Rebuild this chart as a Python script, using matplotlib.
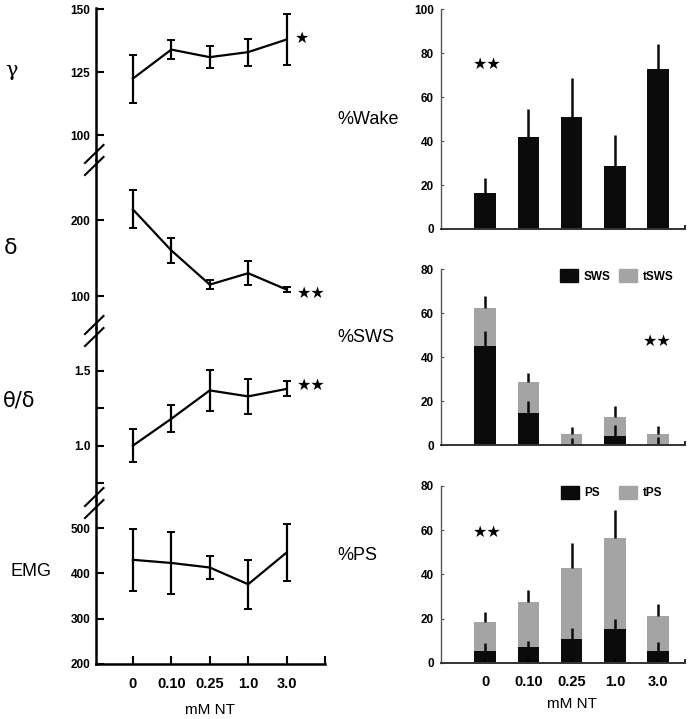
import numpy as np
import matplotlib.pyplot as plt
from matplotlib.patches import Patch
from matplotlib.lines import Line2D

# doses (categorical x positions)
doses = ['0', '0.10', '0.25', '1.0', '3.0']

# left column: mean +/- sem
gamma = [122.5, 134, 131, 133, 138]
gamma_err = [9.5, 3.8, 4.5, 5.4, 10.3]
delta = [214, 160, 115, 130, 108.5]
delta_err = [25, 16, 6, 16, 3]
theta_delta = [1.0, 1.18, 1.37, 1.33, 1.38]
theta_delta_err = [0.11, 0.09, 0.14, 0.115, 0.05]
emg = [430, 423, 413, 376, 446]
emg_err = [68, 68, 26, 54, 63]

# right column: percentages (upper error only)
wake = [16.5, 42, 51, 28.8, 73]
wake_err = [6.5, 12.5, 17.6, 14.2, 11.3]
sws = [45, 14.4, 0.5, 4.2, 0.5]
sws_err = [7, 5.8, 2.8, 4.8, 3.3]
tsws = [62.5, 28.5, 5, 12.6, 5]
tsws_err = [5.3, 4.5, 3.3, 5.3, 3.6]
ps = [5.3, 7, 10.6, 15.1, 5.4]
ps_err = [3.7, 3, 5.2, 4.5, 4.1]
tps = [18.3, 27.3, 42.7, 56.3, 21.1]
tps_err = [4.7, 5.7, 11.7, 12.8, 5.3]

W, H = 690, 719
FONT = 'Liberation Sans'
BLACK = '#0b0b0b'
GREY = '#a4a4a4'
STAR = '\u2605'

fig = plt.figure(figsize=(W / 100, H / 100), dpi=100)


def px_axes(l, t, r, b):
    return fig.add_axes([l / W, 1 - b / H, (r - l) / W, (b - t) / H])


def fig_text(x, y, s, **kw):
    fig.text(x / W, 1 - y / H, s, **kw)


x = np.arange(len(doses))

# ---- left column: line plots sharing one broken axis ----
left_panels = [
    (gamma, gamma_err, (8, 160), (90.2, 150.5), [100, 125, 150], ['100', '125', '150']),
    (delta, delta_err, (160, 328), (57.9, 279), [100, 200], ['100', '200']),
    (theta_delta, theta_delta_err, (328, 500), (0.636, 1.788),
     [0.75, 1.0, 1.25, 1.5], ['', '1.0', '', '1.5']),
    (emg, emg_err, (500, 664), (200, 562), [200, 300, 400, 500], ['200', '300', '400', '500']),
]
left_axes = []
for i, (vals, errs, (top, bot), ylim, yt, ytl) in enumerate(left_panels):
    ax = px_axes(96, top, 325, bot)
    ax.patch.set_alpha(0)
    ax.errorbar(x, vals, yerr=errs, color='black', lw=1.6, capsize=3, capthick=1.4,
                elinewidth=1.6)
    ax.set_xlim(-0.96, 5)
    ax.set_ylim(*ylim)
    ax.set_yticks(yt)
    ax.set_yticklabels(ytl, fontsize=8.5, fontweight='bold', family=FONT)
    ax.tick_params(axis='y', direction='in', length=6, width=1.5, pad=4)
    for s in ['top', 'right']:
        ax.spines[s].set_visible(False)
    ax.spines['left'].set_linewidth(1.8)
    if i < 3:
        ax.spines['bottom'].set_visible(False)
        ax.set_xticks([])
    else:
        ax.spines['bottom'].set_linewidth(1.8)
        ax.set_xticks(list(x) + [5])
        ax.set_xticklabels(doses + [''], fontsize=10.5, fontweight='bold', family=FONT)
        ax.tick_params(axis='x', direction='in', length=6, width=1.5, pad=9)
    left_axes.append(ax)

# stars on left column
star_kw = dict(fontsize=11.5, family='DejaVu Sans', ha='center', va='center')
left_axes[0].text(4.4, 138.5, STAR, **star_kw)
left_axes[1].text(4.64, 103, STAR * 2, **star_kw)
left_axes[2].text(4.64, 1.405, STAR * 2, **star_kw)

# break marks on the left spine
for yc in [160, 331, 503]:
    for dy in [-6, 6]:
        fig.add_artist(Line2D([85 / W, 103.5 / W],
                              [1 - (yc + dy + 9) / H, 1 - (yc + dy - 9) / H],
                              color='black', lw=1.5))

# row labels
fig_text(12, 71, '\u03b3', fontsize=15, family='DejaVu Serif', ha='center', va='center')
fig_text(11, 248, '\u03b4', fontsize=16, family='DejaVu Sans', ha='center', va='center')
fig_text(19, 400, '\u03b8/\u03b4', fontsize=15, family='DejaVu Sans', ha='center', va='center')
fig_text(31, 571, 'EMG', fontsize=13, family=FONT, ha='center', va='center')
fig_text(337, 120, '%Wake', fontsize=13, family=FONT, ha='left', va='center')
fig_text(337, 337, '%SWS', fontsize=13, family=FONT, ha='left', va='center')
fig_text(337, 556, '%PS', fontsize=13, family=FONT, ha='left', va='center')
fig_text(210, 710, 'mM NT', fontsize=11, family=FONT, ha='center', va='center')
fig_text(572, 704, 'mM NT', fontsize=11, family=FONT, ha='center', va='center')

# ---- right column: bar charts ----
bw = 0.5


def style_right(ax, ymax, step, show_x):
    ax.set_xlim(-1.02, 4.62)
    ax.set_ylim(0, ymax)
    ax.set_yticks(np.arange(0, ymax + 1, step))
    ax.set_yticklabels([str(int(v)) for v in np.arange(0, ymax + 1, step)],
                       fontsize=8.5, fontweight='bold', family=FONT)
    ax.tick_params(axis='y', direction='in', length=2, width=0.8, color='#555555', pad=5)
    for s in ['top', 'right']:
        ax.spines[s].set_visible(False)
    ax.spines['left'].set_color('#555555')
    ax.spines['left'].set_linewidth(1.0)
    ax.spines['bottom'].set_color('#333333')
    ax.spines['bottom'].set_linewidth(1.4)
    ax.set_xticks([4.62])
    ax.tick_params(axis='x', direction='in', length=3, width=1.2)
    if show_x:
        ax.set_xticks(list(x) + [4.62])
        ax.set_xticklabels(doses + [''], fontsize=10.5, fontweight='bold', family=FONT)
        ax.tick_params(axis='x', pad=9)
    else:
        ax.set_xticklabels([''])


err_kw = dict(fmt='none', ecolor=BLACK, elinewidth=1.8, capsize=0)
leg_kw = dict(ncol=2, loc='upper right', frameon=False, handlelength=1.5,
              handleheight=1.3, handletextpad=0.5,
              prop={'family': FONT, 'weight': 'bold', 'size': 8.5})

ax_w = px_axes(441, 9.3, 685, 229)
ax_w.bar(x, wake, width=bw, color=BLACK)
ax_w.errorbar(x, wake, yerr=[np.zeros(5), wake_err], **err_kw)
style_right(ax_w, 100, 20, False)
ax_w.text(0.05, 75, STAR * 2, **star_kw)

ax_s = px_axes(441, 269.3, 685, 445)
ax_s.bar(x, tsws, width=bw, color=GREY)
ax_s.errorbar(x, tsws, yerr=[np.zeros(5), tsws_err], **err_kw)
ax_s.bar(x, sws, width=bw, color=BLACK)
ax_s.errorbar(x, sws, yerr=[np.zeros(5), sws_err], **err_kw)
style_right(ax_s, 80, 20, False)
ax_s.text(3.97, 47, STAR * 2, **star_kw)
ax_s.legend(handles=[Patch(color=BLACK, label='SWS'), Patch(color=GREY, label='tSWS')],
            bbox_to_anchor=(0.995, 1.06), columnspacing=0.7, **leg_kw)

ax_p = px_axes(441, 486, 685, 662.7)
ax_p.bar(x, tps, width=bw, color=GREY)
ax_p.errorbar(x, tps, yerr=[np.zeros(5), tps_err], **err_kw)
ax_p.bar(x, ps, width=bw, color=BLACK)
ax_p.errorbar(x, ps, yerr=[np.zeros(5), ps_err], **err_kw)
style_right(ax_p, 80, 20, True)
ax_p.text(0.05, 59, STAR * 2, **star_kw)
ax_p.legend(handles=[Patch(color=BLACK, label='PS'), Patch(color=GREY, label='tPS')],
            bbox_to_anchor=(0.95, 1.06), columnspacing=1.6, **leg_kw)

fig.savefig('out.png', dpi=100)
